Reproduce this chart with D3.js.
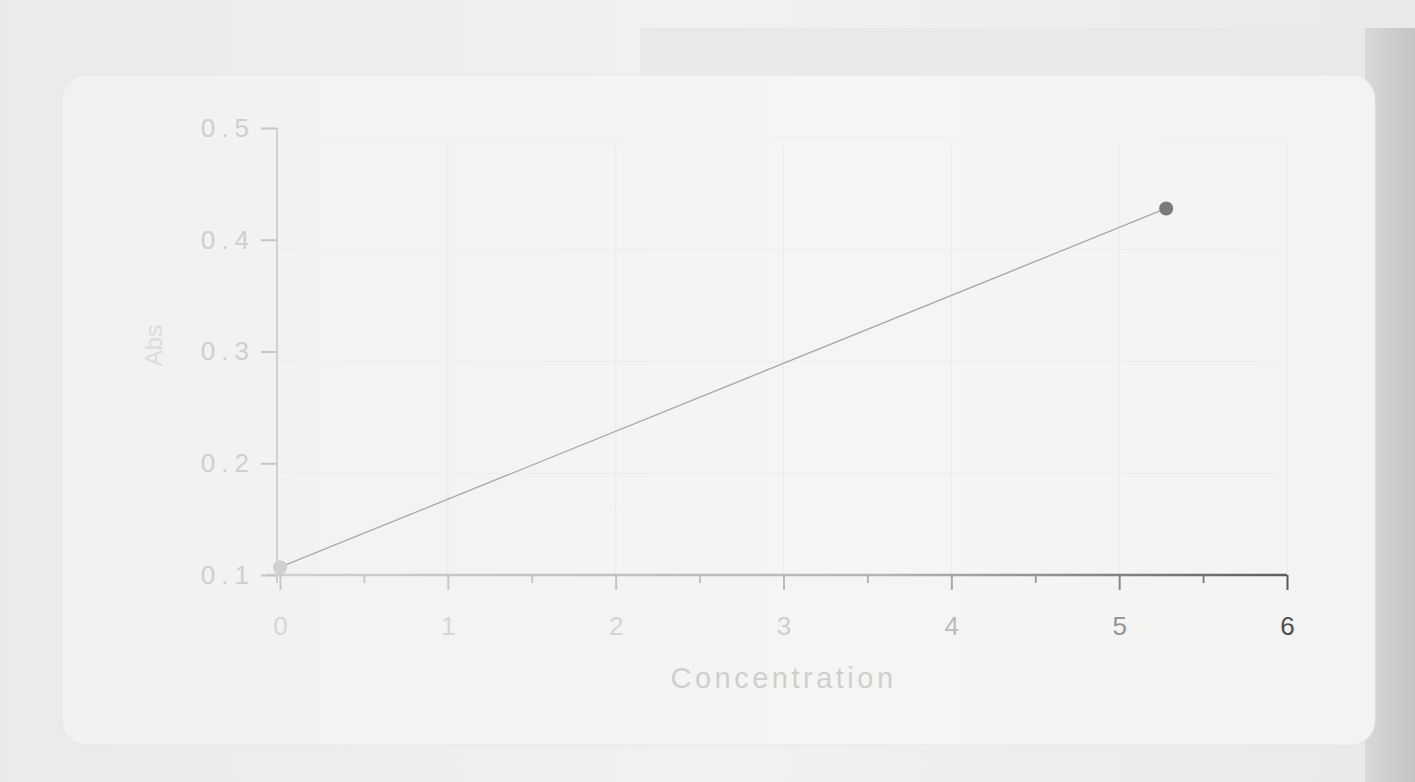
<!DOCTYPE html>
<html><head><meta charset="utf-8">
<script src="https://cdn.jsdelivr.net/npm/d3@7"></script>
<style>html,body{margin:0;padding:0;background:#ededeb;overflow:hidden}</style>
</head><body>
<svg id="c" width="1415" height="782"></svg>
<script>
const concentration = [0, 5.28];
const absValues = [0.107, 0.428];
const xTicks = [0, 1, 2, 3, 4, 5, 6];
const xMinorTicks = [0.5, 1.5, 2.5, 3.5, 4.5, 5.5];
const yTicks = [0.1, 0.2, 0.3, 0.4, 0.5];
const xLabel = "Concentration";
const yLabel = "Abs";

const svg = d3.select("#c");
const defs = svg.append("defs");
const bgGrad = defs.append("linearGradient").attr("id","bg").attr("x1","0").attr("x2","1");
bgGrad.append("stop").attr("offset","0").attr("stop-color","#eaeae9");
bgGrad.append("stop").attr("offset","0.5").attr("stop-color","#f1f1ef");
bgGrad.append("stop").attr("offset","1").attr("stop-color","#e9e9e7");
svg.append("rect").attr("width",1415).attr("height",782).attr("fill","url(#bg)");
svg.append("rect").attr("x",640).attr("y",28).attr("width",740).attr("height",50).attr("fill","#e9e9e7");
// right dark strip
const rg = defs.append("linearGradient").attr("id","rs").attr("x1","0").attr("x2","1");
rg.append("stop").attr("offset","0").attr("stop-color","#d8d8d6");
rg.append("stop").attr("offset","1").attr("stop-color","#c4c4c2");
svg.append("rect").attr("x",1365).attr("y",28).attr("width",50).attr("height",754).attr("fill","url(#rs)");
// card
const cg = defs.append("linearGradient").attr("id","card").attr("x1","0").attr("x2","1");
cg.append("stop").attr("offset","0").attr("stop-color","#f1f1ef");
cg.append("stop").attr("offset","0.6").attr("stop-color","#f5f5f3");
cg.append("stop").attr("offset","1").attr("stop-color","#f3f3f1");
svg.append("rect").attr("x",62).attr("y",75).attr("width",1313).attr("height",670).attr("rx",24)
  .attr("fill","url(#card)").attr("stroke","#e6e6e4");

const x = d3.scaleLinear().domain([0,6]).range([280,1287]);
const y = d3.scaleLinear().domain([0.1,0.5]).range([575,128]);

// faint grid
const g = svg.append("g");
g.selectAll(".vg").data(xTicks.slice(1)).join("line")
  .attr("x1",d=>x(d)).attr("x2",d=>x(d)).attr("y1",y(0.5)+18).attr("y2",y(0.1))
  .attr("stroke","#ebebe9").attr("stroke-width",1.2);
g.selectAll(".hg").data(yTicks.slice(1)).join("line")
  .attr("x1",x(0)).attr("x2",x(6)).attr("y1",d=>y(d)+10).attr("y2",d=>y(d)+10)
  .attr("stroke","#ededeb").attr("stroke-width",1.2);

const fontFam = "'Liberation Sans', Arial, sans-serif";

// x axis
const axg = defs.append("linearGradient").attr("id","ax").attr("gradientUnits","userSpaceOnUse")
  .attr("x1",x(0)).attr("x2",x(6)).attr("y1",0).attr("y2",0);
axg.append("stop").attr("offset","0").attr("stop-color","#cfcfcd");
axg.append("stop").attr("offset","0.6").attr("stop-color","#b4b4b2");
axg.append("stop").attr("offset","1").attr("stop-color","#5e5e5c");
const xAxis = svg.append("g").attr("transform",`translate(0,${y(0.1)})`)
  .call(d3.axisBottom(x).tickValues(xTicks).tickSize(15).tickSizeOuter(0).tickFormat(d3.format("d")));
xAxis.select(".domain").attr("stroke","url(#ax)").attr("stroke-width",2.5).attr("d",`M${x(0)-14},0H${x(6)}`);
xAxis.selectAll(".tick line").attr("stroke",(d)=>d3.interpolateRgb("#c8c8c6","#5a5a58")(Math.pow(d/6,3))).attr("stroke-width",2);
xAxis.selectAll(".tick text").attr("font-family",fontFam).attr("font-size",26)
  .attr("fill",d=>d3.interpolateRgb("#d6d6d4","#4e4e4c")(Math.pow(d/6,4))).attr("dy","1.6em");
svg.append("g").attr("transform",`translate(0,${y(0.1)})`)
  .call(d3.axisBottom(x).tickValues(xMinorTicks).tickSize(8).tickFormat(""))
  .call(s=>s.select(".domain").remove())
  .selectAll("line").attr("stroke",d=>d3.interpolateRgb("#c8c8c6","#6a6a68")(Math.pow(d/6,3))).attr("stroke-width",2);

// y axis
const yAxis = svg.append("g").attr("transform",`translate(${x(0)-3},0)`)
  .call(d3.axisLeft(y).tickValues(yTicks).tickSize(16).tickSizeOuter(0).tickFormat(d3.format(".1f")));
yAxis.select(".domain").attr("stroke","#d0d0ce").attr("stroke-width",2).attr("d",`M0,${y(0.5)}V${y(0.1)+8}`);
yAxis.selectAll(".tick line").attr("stroke","#c6c6c4").attr("stroke-width",2);
yAxis.selectAll(".tick text").attr("font-family",fontFam).attr("font-size",26)
  .attr("fill","#cfcfcd").attr("letter-spacing","6px").attr("x",-22);

// labels
svg.append("text").attr("x",(x(0)+x(6))/2).attr("y",688).attr("text-anchor","middle")
  .attr("font-family",fontFam).attr("font-size",29).attr("letter-spacing","3.5px")
  .attr("fill","#cfcfcd").text(xLabel);
svg.append("text").attr("transform",`translate(162,${y(0.3)-6}) rotate(-90)`).attr("text-anchor","middle")
  .attr("font-family",fontFam).attr("font-size",24).attr("fill","#dcdcda").text(yLabel);

// line + points
const pts = concentration.map((c,i)=>[c,absValues[i]]);
svg.append("path").datum(pts).attr("fill","none").attr("stroke","#a8a8a6").attr("stroke-width",1.3)
  .attr("d",d3.line().x(d=>x(d[0])).y(d=>y(d[1])));
svg.selectAll(".pt").data(pts).join("circle")
  .attr("cx",d=>x(d[0])).attr("cy",d=>y(d[1])).attr("r",7)
  .attr("fill",(d,i)=>i===0?"#cfcfcd":"#7a7a78");
</script>
</body></html>
